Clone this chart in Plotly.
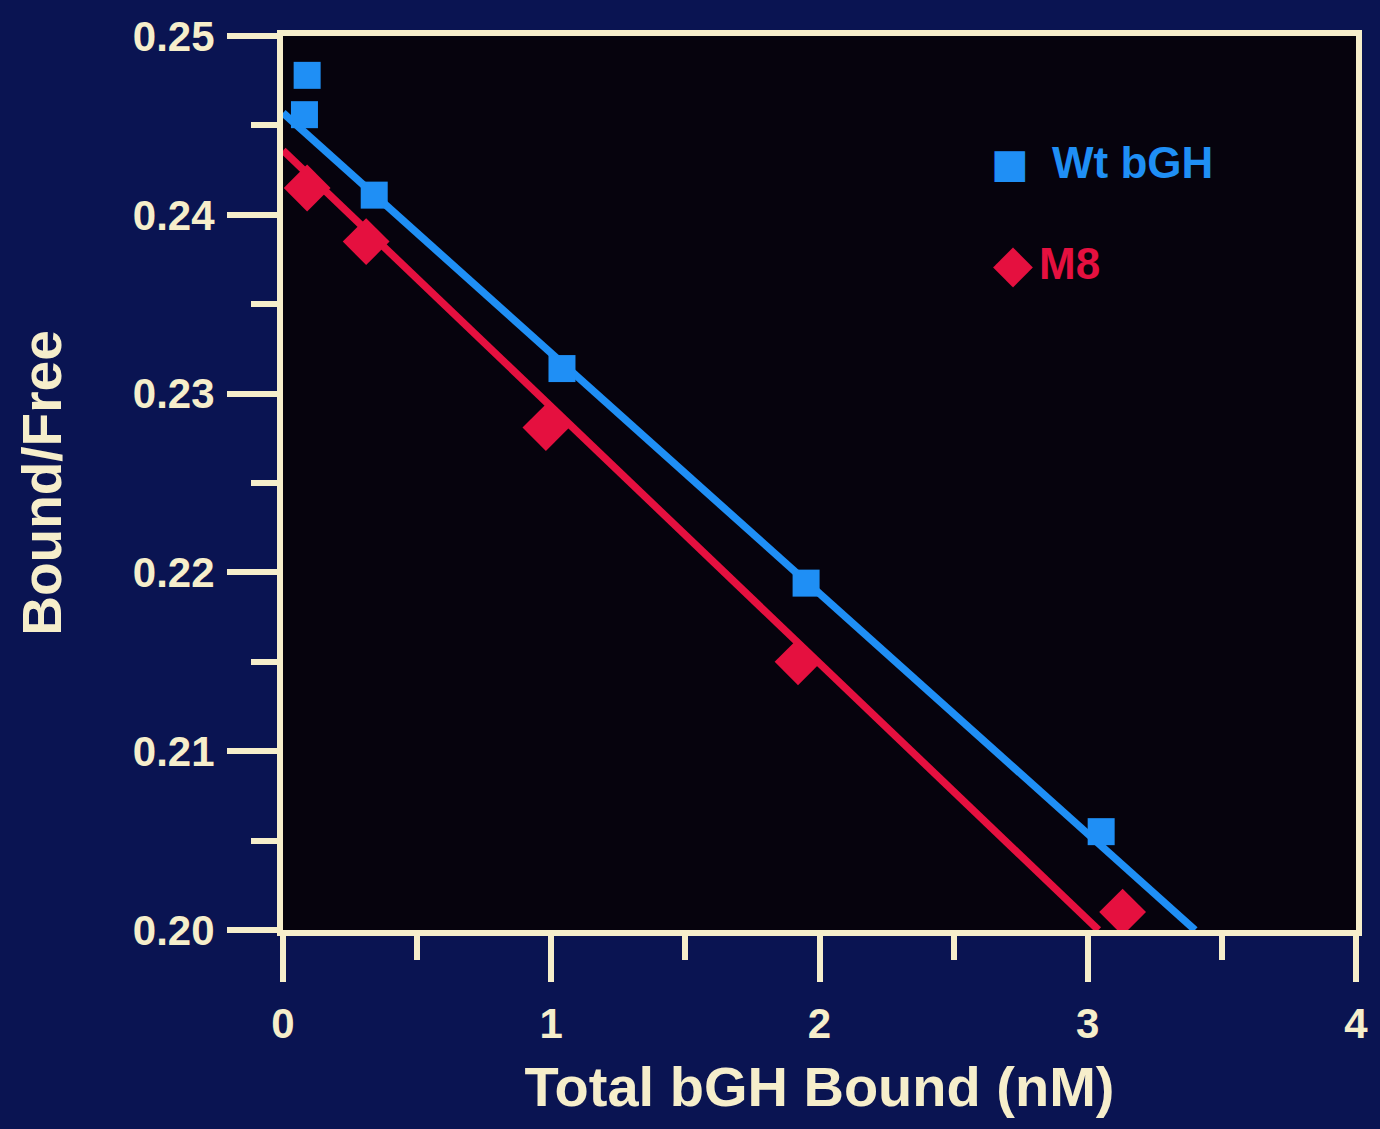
import plotly.graph_objects as go

# ---- data ----
wt_x = [0.09, 0.08, 0.34, 1.04, 1.95, 3.05]
wt_y = [0.2478, 0.2456, 0.2411, 0.2314, 0.2194, 0.2055]
m8_x = [0.09, 0.31, 0.98, 1.92, 3.13]
m8_y = [0.2415, 0.2385, 0.2281, 0.2150, 0.2010]
# fitted lines (endpoints)
wt_fit_x = [0.0, 3.40]
wt_fit_y = [0.2457, 0.2000]
m8_fit_x = [0.0, 3.04]
m8_fit_y = [0.2436, 0.2000]

x_ticks = [0, 1, 2, 3, 4]
y_ticks = [0.20, 0.21, 0.22, 0.23, 0.24, 0.25]
y_tick_labels = ["0.20", "0.21", "0.22", "0.23", "0.24", "0.25"]

NAVY = "#0a1452"
PLOT = "#06030d"
CREAM = "#f6eecb"
BLUE = "#1f8ff5"
RED = "#e5103f"
FONT = "Liberation Sans"

fig = go.Figure()
fig.add_trace(go.Scatter(x=wt_fit_x, y=wt_fit_y, mode="lines",
                         line=dict(color=BLUE, width=7.5), showlegend=False, cliponaxis=True))
fig.add_trace(go.Scatter(x=m8_fit_x, y=m8_fit_y, mode="lines",
                         line=dict(color=RED, width=7.5), showlegend=False, cliponaxis=True))
fig.add_trace(go.Scatter(x=wt_x, y=wt_y, mode="markers", name="Wt bGH",
                         marker=dict(symbol="square", size=27, color=BLUE),
                         showlegend=False, cliponaxis=False))
fig.add_trace(go.Scatter(x=m8_x, y=m8_y, mode="markers", name="M8",
                         marker=dict(symbol="diamond", size=36, color=RED),
                         showlegend=False, cliponaxis=False))

# legend drawn as text annotations
legend = [
    ("■", BLUE, 2.71, 0.2429, 40, "Wt bGH", 2.86),
    ("◆", RED, 2.72, 0.2373, 52, "M8", 2.81),
]
for sym, col, sx, sy, fs, label, lx in legend:
    fig.add_annotation(x=sx, y=sy, xref="x", yref="y", text=sym, showarrow=False,
                       font=dict(family="DejaVu Sans", size=fs, color=col))
    fig.add_annotation(x=lx, y=sy, xref="x", yref="y", text="<b>%s</b>" % label,
                       showarrow=False, xanchor="left",
                       font=dict(family=FONT, size=44, color=col))

axis_common = dict(
    showline=True, linecolor=CREAM, linewidth=6, mirror=True,
    showgrid=False, zeroline=False, ticks="outside", tickcolor=CREAM, tickwidth=6,
    tickfont=dict(family=FONT, size=42, color=CREAM, weight="bold"),
)

fig.update_xaxes(
    range=[0, 4], tickvals=x_ticks, ticklen=46,
    minor=dict(dtick=0.5, ticklen=24, tickwidth=6, tickcolor=CREAM, ticks="outside"),
    title=dict(text="Total bGH Bound (nM)", standoff=22,
               font=dict(family=FONT, size=56, color=CREAM, weight="bold")),
    ticklabelstandoff=6,
    **axis_common,
)
fig.update_yaxes(
    range=[0.20, 0.25], tickvals=y_ticks, ticktext=y_tick_labels, ticklen=50,
    minor=dict(dtick=0.005, ticklen=26, tickwidth=6, tickcolor=CREAM, ticks="outside"),
    title=dict(text="Bound/Free", standoff=56,
               font=dict(family=FONT, size=55, color=CREAM, weight="bold")),
    ticklabelstandoff=4,
    **axis_common,
)

fig.update_layout(
    width=1380, height=1129,
    margin=dict(l=283, r=18, t=36, b=199),
    paper_bgcolor=NAVY, plot_bgcolor=PLOT,
    showlegend=False,
)

fig.write_html("out.html", config={"displayModeBar": False})

# remove the default page margin so the figure fills the window
with open("out.html", "r", encoding="utf-8") as f:
    html = f.read()
html = html.replace("<body>", '<body style="margin:0;background:%s;">' % NAVY, 1)
with open("out.html", "w", encoding="utf-8") as f:
    f.write(html)
